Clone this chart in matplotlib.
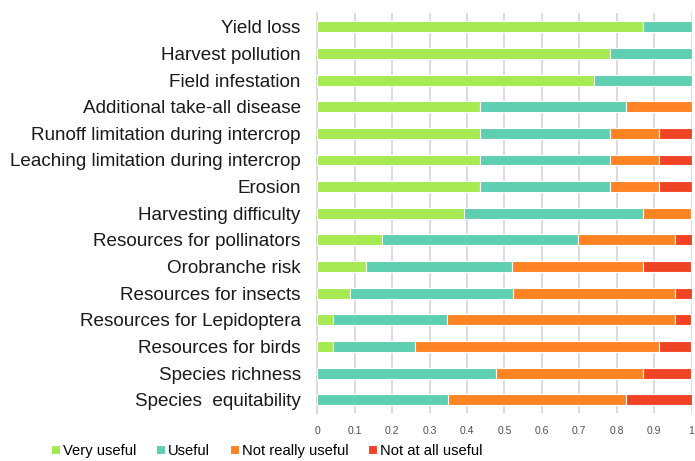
import numpy as np
import matplotlib
matplotlib.use("Agg")
import matplotlib.pyplot as plt

plt.rcParams['font.family'] = ['Liberation Sans', 'DejaVu Sans']

categories = ["Yield loss", "Harvest pollution", "Field infestation",
              "Additional take-all disease", "Runoff limitation during intercrop",
              "Leaching limitation during intercrop", "Erosion",
              "Harvesting difficulty", "Resources for pollinators",
              "Orobranche risk", "Resources for insects",
              "Resources for Lepidoptera", "Resources for birds",
              "Species richness", "Species  equitability"]

very_useful = [0.870, 0.783, 0.739, 0.435, 0.435, 0.435, 0.435, 0.391,
               0.174, 0.130, 0.087, 0.043, 0.043, 0.0, 0.0]
useful = [0.130, 0.217, 0.261, 0.391, 0.348, 0.348, 0.348, 0.478,
          0.522, 0.391, 0.435, 0.304, 0.217, 0.478, 0.348]
not_really = [0.0, 0.0, 0.0, 0.174, 0.130, 0.130, 0.130, 0.130,
              0.261, 0.348, 0.435, 0.609, 0.652, 0.391, 0.478]
not_at_all = [0.0, 0.0, 0.0, 0.0, 0.087, 0.087, 0.087, 0.0,
              0.043, 0.130, 0.043, 0.043, 0.087, 0.130, 0.174]

series = [("Very useful", very_useful, "#a6ea52"),
          ("Useful", useful, "#5ecfb1"),
          ("Not really useful", not_really, "#ff8323"),
          ("Not at all useful", not_at_all, "#f04326")]

xticks = [0, 0.1, 0.2, 0.3, 0.4, 0.5, 0.6, 0.7, 0.8, 0.9, 1]
xticklabels = ["0", "0.1", "0.2", "0.3", "0.4", "0.5", "0.6", "0.7", "0.8", "0.9", "1"]

fig = plt.figure(figsize=(6.95, 4.61), dpi=100)
ax = fig.add_axes([0.4566, 0.104, 0.5384, 0.868])

y = np.arange(len(categories))
left = np.zeros(len(categories))
for name, vals, col in series:
    vals = np.array(vals)
    ax.barh(y, vals, left=left, height=0.41, color=col, edgecolor="white",
            linewidth=0.8, label=name, zorder=3)
    left += vals

ax.set_ylim(14.5, -0.52)
ax.set_xlim(0, 1)
ax.set_yticks(y)
ax.set_yticklabels(categories, fontsize=13.6, color="#1a1a1a")
ax.set_xticks(xticks)
ax.set_xticklabels(xticklabels, fontsize=7.5, color="#505050")
ax.tick_params(axis="both", length=0)
ax.tick_params(axis="x", pad=9)
ax.tick_params(axis="y", pad=12)
ax.grid(axis="x", color="#d9d9d9", linewidth=1.3, zorder=0)
for s in ["top", "right", "bottom"]:
    ax.spines[s].set_visible(False)
ax.spines["left"].set_color("#d9d9d9")
ax.spines["left"].set_linewidth(1.3)

fig.legend(loc="center", bbox_to_anchor=(0.384, 1 - 451 / 461), ncol=4,
           frameon=False, fontsize=10.6,
           handlelength=0.6, handleheight=0.6,
           handletextpad=0.2, columnspacing=1.35, borderaxespad=0)

fig.savefig("out.png", dpi=100)
